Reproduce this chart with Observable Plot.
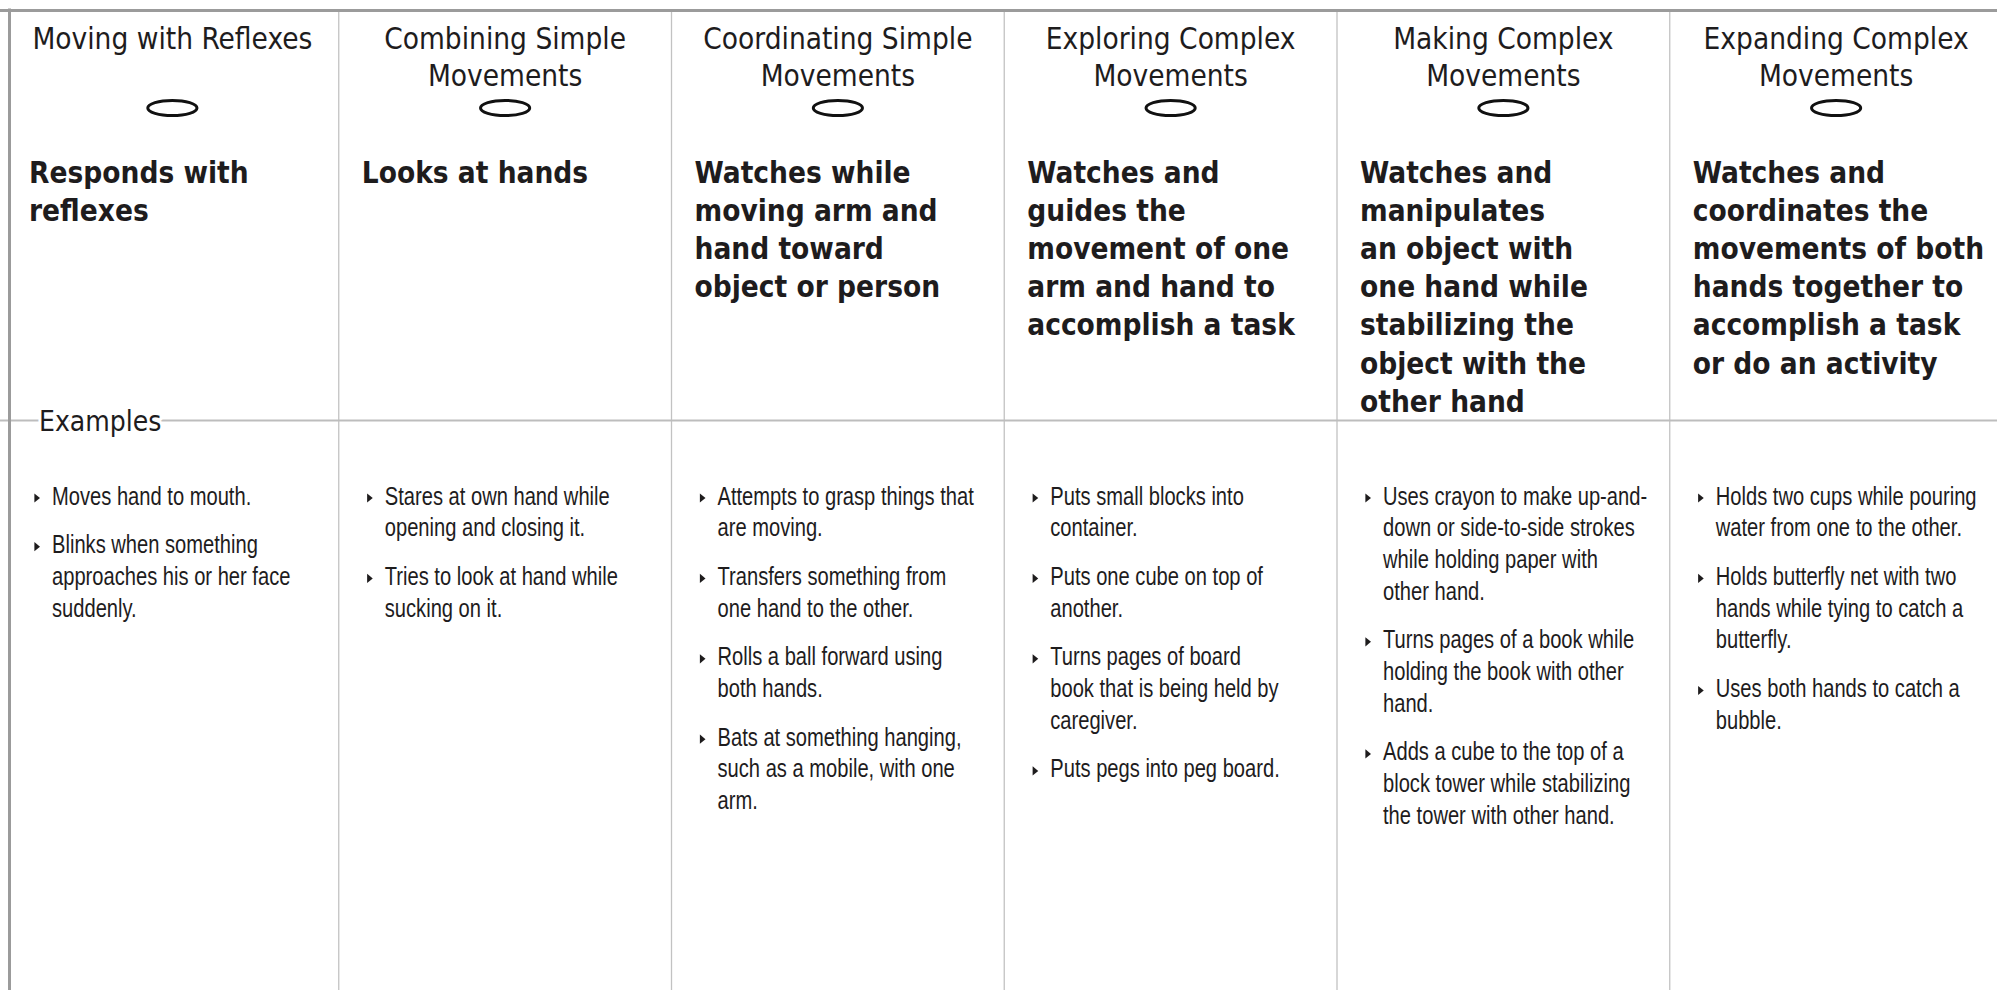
<!DOCTYPE html>
<html><head><meta charset="utf-8">
<script src="https://cdn.jsdelivr.net/npm/d3@7"></script>
<script src="https://cdn.jsdelivr.net/npm/@observablehq/plot@0.6"></script>
<style>
html,body{margin:0;padding:0;background:#fff;overflow:hidden}
</style></head><body><div id="chart"></div>
<script>
// ---------- DATA ----------
const stages = [
  "Moving with Reflexes",
  "Combining Simple\nMovements",
  "Coordinating Simple\nMovements",
  "Exploring Complex\nMovements",
  "Making Complex\nMovements",
  "Expanding Complex\nMovements"
];
const skills = [
  "Responds with\nreflexes",
  "Looks at hands",
  "Watches while\nmoving arm and\nhand toward\nobject or person",
  "Watches and\nguides the\nmovement of one\narm and hand to\naccomplish a task",
  "Watches and\nmanipulates\nan object with\none hand while\nstabilizing the\nobject with the\nother hand",
  "Watches and\ncoordinates the\nmovements of both\nhands together to\naccomplish a task\nor do an activity"
];
const examples = [
  ["Moves hand to mouth.",
   "Blinks when something\napproaches his or her face\nsuddenly."],
  ["Stares at own hand while\nopening and closing it.",
   "Tries to look at hand while\nsucking on it."],
  ["Attempts to grasp things that\nare moving.",
   "Transfers something from\none hand to the other.",
   "Rolls a ball forward using\nboth hands.",
   "Bats at something hanging,\nsuch as a mobile, with one\narm."],
  ["Puts small blocks into\ncontainer.",
   "Puts one cube on top of\nanother.",
   "Turns pages of board\nbook that is being held by\ncaregiver.",
   "Puts pegs into peg board."],
  ["Uses crayon to make up-and-\ndown or side-to-side strokes\nwhile holding paper with\nother hand.",
   "Turns pages of a book while\nholding the book with other\nhand.",
   "Adds a cube to the top of a\nblock tower while stabilizing\nthe tower with other hand."],
  ["Holds two cups while pouring\nwater from one to the other.",
   "Holds butterfly net with two\nhands while tying to catch a\nbutterfly.",
   "Uses both hands to catch a\nbubble."]
];
const sectionLabel = "Examples";

// ---------- LAYOUT ----------
const W = 1997, H = 990;
const L = {
  top: 10, bottom: 990, divider: 420,
  headerBase: 48, headerLead: 37, markY: 107.5,
  skillBase: 182, skillLead: 38.2,
  exBase: 504, exLead: 31.7, exGap: 17
};
const ink = "#1e1c1d";
const headFont = "'DejaVu Sans Condensed', 'DejaVu Sans', sans-serif";
const bodyFont = "'Liberation Sans', Arial, sans-serif";
const bodyCondense = 0.79;

const cols = d3.range(stages.length);
const headerRows = stages.flatMap((s, c) => s.split("\n").map((t, j) => ({col: c + 0.5, y: L.headerBase + j * L.headerLead, text: t})));
const marks = cols.map(c => ({col: c + 0.5, y: L.markY}));
const skillRows = skills.flatMap((s, c) => s.split("\n").map((t, j) => ({col: c, y: L.skillBase + j * L.skillLead, text: t})));
const exRows = [], bullets = [];
examples.forEach((items, c) => {
  let y = L.exBase;
  items.forEach(item => {
    bullets.push({col: c, y: y - 6.5});
    item.split("\n").forEach(t => { exRows.push({col: c, y, text: t}); y += L.exLead; });
    y += L.exGap;
  });
});

const ellipse = {draw(ctx) {
  const rx = 24.6, ry = 7.6, k = 0.5523;
  ctx.moveTo(rx, 0);
  ctx.bezierCurveTo(rx, ry * k, rx * k, ry, 0, ry);
  ctx.bezierCurveTo(-rx * k, ry, -rx, ry * k, -rx, 0);
  ctx.bezierCurveTo(-rx, -ry * k, -rx * k, -ry, 0, -ry);
  ctx.bezierCurveTo(rx * k, -ry, rx, -ry * k, rx, 0);
  ctx.closePath();
}};
const bulletSym = {draw(ctx) {
  ctx.moveTo(-2.6, -4.6); ctx.lineTo(3, 0); ctx.lineTo(-2.6, 4.6); ctx.closePath();
}};

const chart = Plot.plot({
  width: W, height: H,
  margin: 0,
  x: {type: "linear", domain: [0, stages.length], range: [5.5, 2002], axis: null},
  y: {type: "linear", domain: [0, H], range: [0, H], axis: null},
  marks: [
    Plot.ruleX(d3.range(1, stages.length), {y1: L.top, y2: L.bottom, stroke: "#c2c2c2", strokeWidth: 1.3}),
    Plot.ruleY([L.divider], {stroke: "#bdbdbd", strokeWidth: 2}),
    Plot.ruleY([L.top], {stroke: "#9b9b9b", strokeWidth: 3}),
    Plot.ruleX([0], {y1: L.top - 1.5, y2: L.bottom, dx: 3.5, stroke: "#9b9b9b", strokeWidth: 3}),
    Plot.text([sectionLabel], {x: 0, y: L.divider + 10, text: d => d, dx: 33, textAnchor: "start", lineAnchor: "bottom",
      fontFamily: headFont, fontSize: 28, fill: ink, stroke: "white", strokeWidth: 6}),
    Plot.text(headerRows, {x: "col", y: "y", text: "text", textAnchor: "middle", lineAnchor: "bottom",
      fontFamily: headFont, fontSize: 29.5, fill: ink}),
    Plot.dot(marks, {x: "col", y: "y", symbol: ellipse, fill: "none", stroke: "#111", strokeWidth: 3}),
    Plot.text(skillRows, {x: "col", y: "y", text: "text", dx: 23, textAnchor: "start", lineAnchor: "bottom",
      fontFamily: headFont, fontWeight: "bold", fontSize: 29.5, fill: ink}),
    Plot.dot(bullets, {x: "col", y: "y", dx: 31, symbol: bulletSym, fill: ink, stroke: "none"}),
    Plot.text(exRows, {x: "col", y: "y", text: "text", dx: 46, textAnchor: "start", lineAnchor: "bottom",
      fontFamily: bodyFont, fontSize: 25.5, fill: ink})
  ]
});
// condense the example text horizontally (narrow face)
d3.select(chart).selectAll('g[font-size="25.5"] text')
  .attr("transform", function() { return (this.getAttribute("transform") || "") + ` scale(${bodyCondense},1)`; });
document.getElementById("chart").appendChild(chart);
</script>
</body></html>
